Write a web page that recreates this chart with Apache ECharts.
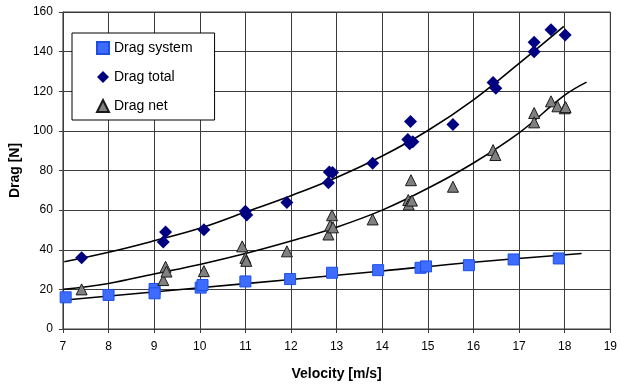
<!DOCTYPE html>
<html>
<head>
<meta charset="utf-8">
<script src="https://cdn.jsdelivr.net/npm/echarts@6/dist/echarts.min.js"></script>
<style>
  html, body { margin: 0; padding: 0; background: #fff; }
  #chart { width: 620px; height: 386px; }
</style>
</head>
<body>
<div id="chart"></div>
<script>
// Measured drag of the system alone, the whole rig, and the net difference
const systemVelocity = [7.06, 8.0, 9.01, 9.01, 10.02, 10.06, 11.0, 11.98, 12.9, 13.91, 14.84, 14.96, 15.9, 16.88, 17.87];
const systemDrag     = [16.0, 17.2, 20.2, 18.0, 20.9, 22.2, 24.0, 25.2, 28.4, 29.7, 30.9, 31.6, 32.2, 35.1, 35.6];

const totalVelocity = [7.41, 9.2, 9.25, 10.09, 11.0, 11.03, 11.91, 12.82, 12.84, 12.91, 13.79, 14.56, 14.6, 14.67, 14.62, 15.55, 16.43, 16.49, 17.33, 17.33, 17.7, 18.01];
const totalDrag     = [35.9, 43.9, 48.9, 50.1, 59.4, 57.6, 63.8, 73.8, 79.3, 79.0, 83.6, 95.7, 93.5, 94.5, 104.7, 103.2, 124.4, 121.5, 139.9, 144.7, 151.1, 148.4];

const netVelocity = [7.41, 9.2, 9.25, 9.27, 10.09, 10.93, 11.0, 11.02, 11.91, 12.82, 12.86, 12.9, 12.92, 13.79, 14.57, 14.58, 14.63, 14.65, 15.55, 16.43, 16.48, 17.33, 17.33, 17.7, 17.84, 18.0, 18.02];
const netDrag     = [20.0, 24.7, 31.4, 29.0, 29.2, 41.7, 35.9, 34.4, 39.2, 47.7, 52.3, 57.4, 51.3, 55.3, 65.1, 62.8, 75.1, 64.8, 71.8, 90.3, 87.8, 109.0, 104.3, 114.9, 112.4, 111.4, 112.0];

// Trend curves through each data set
const systemTrendVelocity = [7.05, 10, 12, 14, 16, 18.37];
const systemTrend         = [14.6, 20.8, 25.0, 29.3, 33.7, 38.1];

const totalTrendVelocity = [7.03, 8, 9, 10, 11, 12, 13, 14, 15, 16, 17, 17.98];
const totalTrend         = [33.9, 38.7, 44.5, 50.8, 59.0, 67.3, 76.5, 87.3, 100.2, 115.7, 134.1, 152.8];

const netTrendVelocity = [7.01, 8, 9, 10, 11, 12, 13, 14, 15, 16, 17, 18, 18.48];
const netTrend         = [20.0, 23.0, 27.8, 32.6, 38.1, 44.4, 51.4, 60.0, 71.0, 83.8, 99.0, 118.0, 124.6];

const xTicks = { min: 7, max: 19, interval: 1 };
const yTicks = { min: 0, max: 160, interval: 20 };

const pairs = (xs, ys) => xs.map((x, i) => [x, ys[i]]);
const FONT = "'Liberation Sans', Arial, sans-serif";
const GRID_COLOR = '#3c3c3c';
const DIAMOND_ICON = 'path://M6,0 L12,6 L6,12 L0,6 Z';

const trend = (name, xs, ys) => ({
  name: name,
  type: 'line',
  data: pairs(xs, ys),
  smooth: 0.4,
  showSymbol: false,
  silent: true,
  lineStyle: { color: '#000', width: 1.6 },
  z: 3
});

const chart = echarts.init(document.getElementById('chart'), null, { renderer: 'canvas' });
chart.setOption({
  animation: false,
  backgroundColor: '#fff',
  textStyle: { fontFamily: FONT },
  grid: { left: 54.5, right: 7, top: 12, bottom: 55, containLabel: false,
          show: true, borderColor: GRID_COLOR, borderWidth: 1 },
  legend: {
    orient: 'vertical',
    left: 72, top: 33,
    data: [
      { name: 'Drag system', icon: 'rect' },
      { name: 'Drag total', icon: DIAMOND_ICON },
      { name: 'Drag net', icon: 'triangle' }
    ],
    itemWidth: 12, itemHeight: 12,
    itemGap: 15,
    padding: [8, 22, 7, 24],
    backgroundColor: '#fff',
    borderColor: '#000',
    borderWidth: 1,
    textStyle: { fontFamily: FONT, fontSize: 14, color: '#000' }
  },
  xAxis: {
    type: 'value',
    min: xTicks.min, max: xTicks.max, interval: xTicks.interval,
    name: 'Velocity [m/s]',
    nameLocation: 'middle',
    nameGap: 38,
    nameTextStyle: { fontFamily: FONT, fontSize: 14, fontWeight: 'bold', color: '#000' },
    axisLine: { show: true, onZero: false, lineStyle: { color: GRID_COLOR, width: 1 } },
    axisTick: { show: true, length: 4, lineStyle: { color: GRID_COLOR } },
    axisLabel: { fontFamily: FONT, fontSize: 12, color: '#000', margin: 12 },
    splitLine: { show: true, lineStyle: { color: GRID_COLOR, width: 1 } }
  },
  yAxis: {
    type: 'value',
    min: yTicks.min, max: yTicks.max, interval: yTicks.interval,
    name: 'Drag [N]',
    nameLocation: 'middle',
    nameGap: 23,
    nameTextStyle: { fontFamily: FONT, fontSize: 14, fontWeight: 'bold', color: '#000' },
    axisLine: { show: true, lineStyle: { color: GRID_COLOR, width: 1 } },
    axisTick: { show: true, length: 4, lineStyle: { color: GRID_COLOR } },
    axisLabel: { fontFamily: FONT, fontSize: 12, color: '#000', margin: 10 },
    splitLine: { show: true, lineStyle: { color: GRID_COLOR, width: 1 } }
  },
  series: [
    trend('system trend', systemTrendVelocity, systemTrend),
    trend('total trend', totalTrendVelocity, totalTrend),
    trend('net trend', netTrendVelocity, netTrend),
    {
      name: 'Drag system',
      type: 'scatter',
      data: pairs(systemVelocity, systemDrag),
      symbol: 'rect',
      symbolSize: 11,
      itemStyle: { color: '#3d6cff', borderColor: '#1d4fe6', borderWidth: 1, opacity: 1 },
      z: 4
    },
    {
      name: 'Drag total',
      type: 'scatter',
      data: pairs(totalVelocity, totalDrag),
      symbol: 'diamond',
      symbolSize: [13, 13],
      itemStyle: { color: '#000080', opacity: 1 },
      z: 4
    },
    {
      name: 'Drag net',
      type: 'scatter',
      data: pairs(netVelocity, netDrag),
      symbol: 'triangle',
      symbolSize: [11, 11],
      itemStyle: { color: '#808080', borderColor: '#1a1a1a', borderWidth: 1, opacity: 1 },
      z: 4
    }
  ]
});
</script>
</body>
</html>
